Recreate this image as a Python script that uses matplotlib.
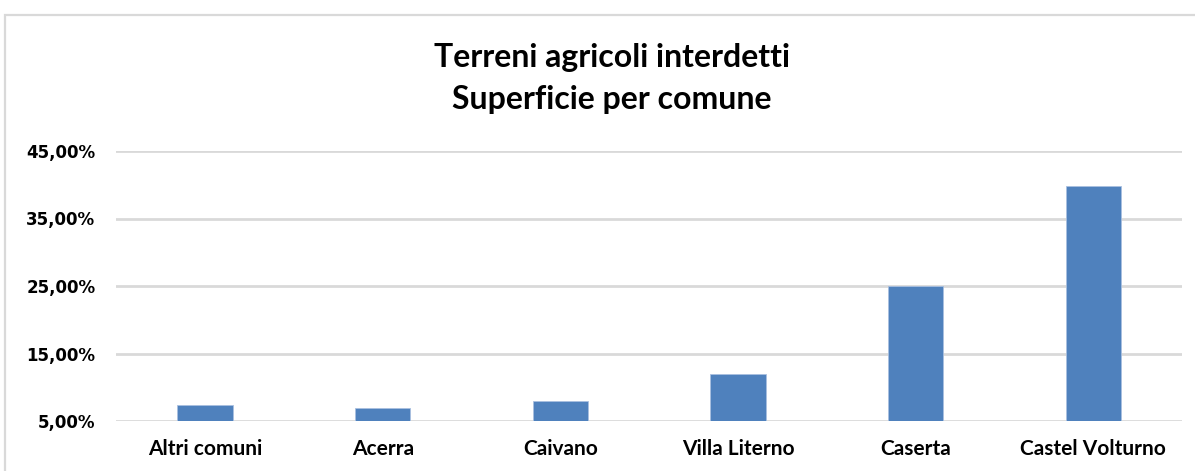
import matplotlib
matplotlib.use("Agg")
import matplotlib.pyplot as plt
from matplotlib.patches import Rectangle
from matplotlib.ticker import FuncFormatter

categories = ["Altri comuni", "Acerra", "Caivano", "Villa Literno", "Caserta", "Castel Volturno"]
values = [7.3, 6.9, 7.9, 11.9, 25.0, 39.8]
yticks = [5, 15, 25, 35, 45]
title_lines = ["Terreni agricoli interdetti", "Superficie per comune"]

W, H = 1195, 471
fig = plt.figure(figsize=(W / 100, H / 100), dpi=100)
fig.patch.set_facecolor("white")

# chart frame (cropped on right/bottom)
fig.add_artist(Rectangle((5 / W, -0.2), 1.2, (H - 15) / H + 0.2, transform=fig.transFigure,
                         fill=False, edgecolor="#D9D9D9", linewidth=1.6))

ax = fig.add_axes([116.2 / W, 50 / H, 1066 / W, 270 / H])
x = list(range(len(categories)))
ax.bar(x, values, width=0.31, color="#4F81BD", edgecolor="#A9C0E0", linewidth=0.6, zorder=3)
ax.set_xlim(-0.5, len(categories) - 0.5)
ax.set_ylim(5, 45)
ax.set_yticks(yticks)
ax.yaxis.set_major_formatter(FuncFormatter(lambda v, p: f"{v:.2f}%".replace(".", ",")))
ax.set_xticks(x)
ax.set_xticklabels(categories, fontfamily="Lato", fontweight="bold", fontsize=15, color="#000000")
for lbl in ax.get_yticklabels():
    lbl.set_fontfamily("DejaVu Sans")
    lbl.set_fontweight("bold")
    lbl.set_fontsize(12)
    lbl.set_color("#000000")
ax.tick_params(axis="y", length=0, pad=15)
ax.tick_params(axis="x", length=0, pad=13)
ax.grid(axis="y", color="#D9D9D9", linewidth=2, zorder=0)
for s in ax.spines.values():
    s.set_visible(False)

fig.text(612 / W, 1 - 57 / H, title_lines[0], ha="center", va="center",
         fontfamily="Lato", fontweight="bold", fontsize=23, color="#000000")
fig.text(612 / W, 1 - 100 / H, title_lines[1], ha="center", va="center",
         fontfamily="Lato", fontweight="bold", fontsize=23, color="#000000")

fig.savefig("out.png", dpi=100, facecolor="white")
